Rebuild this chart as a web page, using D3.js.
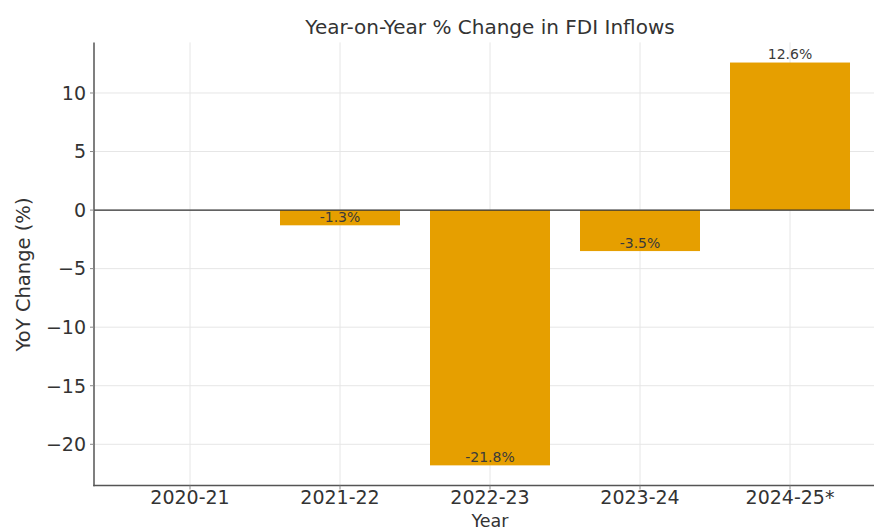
<!DOCTYPE html>
<html>
<head>
<meta charset="utf-8">
<script src="https://cdn.jsdelivr.net/npm/d3@7"></script>
<style>
  body { margin: 0; background: #fff; }
  svg { font-family: "DejaVu Sans", sans-serif; }
</style>
</head>
<body>
<div id="container"></div>
<script>
// data
const years = ["2020-21", "2021-22", "2022-23", "2023-24", "2024-25*"]
const yoyChange = [null, -1.3, -21.8, -3.5, 12.6]
const yTicks = [-20, -15, -10, -5, 0, 5, 10]

const W = 874, H = 531
const margin = {top: 42.4, left: 94, bottom: 45, right: -12}

const svg = d3.select("#container")
  .append("svg")
    .attr("width", W)
    .attr("height", H)

const data = years.map((y, i) => ({year: y, value: yoyChange[i]}))

// SCALES
const xScale = d3.scaleBand()
  .domain(years)
  .range([margin.left, W - margin.right])
  .paddingInner(0.2)
  .paddingOuter(0.24)

const vals = yoyChange.filter(v => v != null)
const lo = d3.min(vals), hi = d3.max(vals)
const pad = (hi - lo) * 0.05
const yScale = d3.scaleLinear()
  .domain([lo - pad, hi + pad])
  .range([H - margin.bottom - 0.5, margin.top])

const plotLeft = margin.left, plotRight = W - margin.right
const plotTop = margin.top, plotBottom = H - margin.bottom - 0.5

// grid
svg.append("g")
  .selectAll("line.h")
  .data(yTicks)
  .enter().append("line")
    .attr("x1", plotLeft).attr("x2", plotRight)
    .attr("y1", d => yScale(d)).attr("y2", d => yScale(d))
    .attr("stroke", "#e6e6e6").attr("stroke-width", 1)

svg.append("g")
  .selectAll("line.v")
  .data(years)
  .enter().append("line")
    .attr("x1", d => xScale(d) + xScale.bandwidth() / 2)
    .attr("x2", d => xScale(d) + xScale.bandwidth() / 2)
    .attr("y1", plotTop).attr("y2", plotBottom)
    .attr("stroke", "#e6e6e6").attr("stroke-width", 1)

// bars
svg.append("g")
  .selectAll("rect")
  .data(data.filter(d => d.value != null))
  .enter().append("rect")
    .attr("x", d => xScale(d.year))
    .attr("width", xScale.bandwidth())
    .attr("y", d => yScale(Math.max(0, d.value)))
    .attr("height", d => Math.abs(yScale(d.value) - yScale(0)))
    .attr("fill", "#E69F00")

// zero line
svg.append("line")
  .attr("x1", plotLeft).attr("x2", plotRight)
  .attr("y1", yScale(0)).attr("y2", yScale(0))
  .attr("stroke", "#333").attr("stroke-width", 1.3)

// value labels (bottom of text at bar end)
svg.append("g")
  .selectAll("text")
  .data(data.filter(d => d.value != null))
  .enter().append("text")
    .attr("x", d => xScale(d.year) + xScale.bandwidth() / 2)
    .attr("y", d => yScale(d.value) - 3.5)
    .attr("text-anchor", "middle")
    .style("font-size", "14px")
    .style("fill", "#3a3a3a")
    .text(d => d.value.toFixed(1) + "%")

// spines
svg.append("line")
  .attr("x1", plotLeft).attr("x2", plotLeft)
  .attr("y1", plotTop).attr("y2", plotBottom + 0.75)
  .attr("stroke", "#555").attr("stroke-width", 1.5)
svg.append("line")
  .attr("x1", plotLeft - 0.75).attr("x2", plotRight)
  .attr("y1", plotBottom).attr("y2", plotBottom)
  .attr("stroke", "#555").attr("stroke-width", 1.5)

// y ticks
const yt = svg.append("g")
yt.selectAll("line")
  .data(yTicks)
  .enter().append("line")
    .attr("x1", plotLeft - 4).attr("x2", plotLeft)
    .attr("y1", d => yScale(d)).attr("y2", d => yScale(d))
    .attr("stroke", "#888").attr("stroke-width", 1)
yt.selectAll("text")
  .data(yTicks)
  .enter().append("text")
    .attr("x", plotLeft - 8)
    .attr("y", d => yScale(d))
    .attr("dy", "0.36em")
    .attr("text-anchor", "end")
    .style("font-size", "19px")
    .style("fill", "#333")
    .text(d => d < 0 ? "\u2212" + Math.abs(d) : d)

// x ticks
const xt = svg.append("g")
xt.selectAll("line")
  .data(years)
  .enter().append("line")
    .attr("x1", d => xScale(d) + xScale.bandwidth() / 2)
    .attr("x2", d => xScale(d) + xScale.bandwidth() / 2)
    .attr("y1", plotBottom).attr("y2", plotBottom + 4)
    .attr("stroke", "#888").attr("stroke-width", 1)
xt.selectAll("text")
  .data(years)
  .enter().append("text")
    .attr("x", d => xScale(d) + xScale.bandwidth() / 2)
    .attr("y", plotBottom + 18.5)
    .attr("text-anchor", "middle")
    .style("font-size", "19px")
    .style("fill", "#333")
    .text(d => d)

// titles
svg.append("text")
  .attr("x", 490)
  .attr("y", 34)
  .attr("text-anchor", "middle")
  .style("font-size", "20px")
  .style("fill", "#333")
  .text("Year-on-Year % Change in FDI Inflows")

svg.append("text")
  .attr("x", 490)
  .attr("y", 527)
  .attr("text-anchor", "middle")
  .style("font-size", "17.5px")
  .style("fill", "#333")
  .text("Year")

svg.append("text")
  .attr("transform", "translate(30," + yScale(-5.5) + ") rotate(-90)")
  .attr("text-anchor", "middle")
  .style("font-size", "19.5px")
  .style("fill", "#333")
  .text("YoY Change (%)")
</script>
</body>
</html>
